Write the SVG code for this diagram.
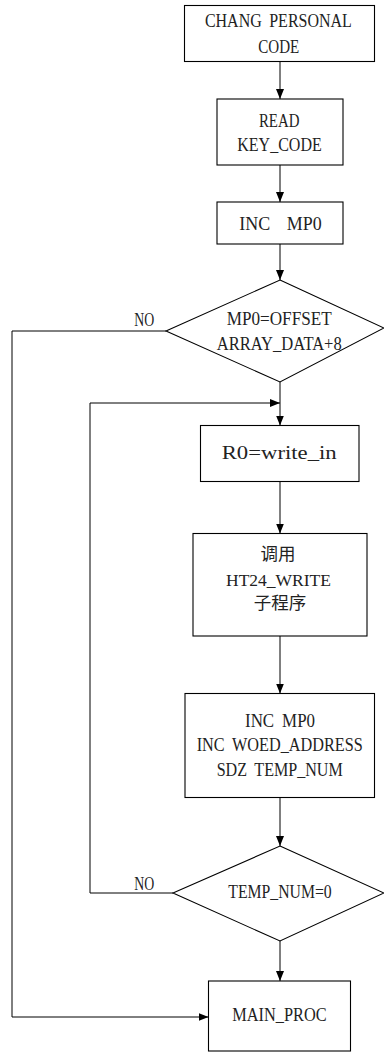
<svg xmlns="http://www.w3.org/2000/svg" width="384" height="1052" viewBox="0 0 384 1052">
<style>
.box{fill:#fff;stroke:#000;stroke-width:1.1}
.ln{fill:none;stroke:#000;stroke-width:1}
.t{font-family:"Liberation Serif","Times New Roman",serif;font-size:18.5px;fill:#222;text-anchor:middle;white-space:pre;word-spacing:4px}
.s{font-size:18px}
.c{font-family:"Liberation Serif","Noto Sans CJK SC",serif;font-size:17.5px;fill:#222;text-anchor:middle}
</style>
<defs>
<marker id="ah" markerUnits="userSpaceOnUse" markerWidth="10" markerHeight="8" refX="10" refY="4" orient="auto">
<path d="M0,0 L10,4 L0,8 z" fill="#000"/>
</marker>
</defs>
<rect width="384" height="1052" fill="#fff"/>
<g id="connectors">
<line class="ln" x1="280" y1="61.5" x2="280" y2="99" marker-end="url(#ah)"/>
<line class="ln" x1="280" y1="165" x2="280" y2="202" marker-end="url(#ah)"/>
<line class="ln" x1="280" y1="244" x2="280" y2="280" marker-end="url(#ah)"/>
<line class="ln" x1="280" y1="382" x2="280" y2="425.5" marker-end="url(#ah)"/>
<line class="ln" x1="280" y1="481.5" x2="280" y2="533.5" marker-end="url(#ah)"/>
<line class="ln" x1="280" y1="636" x2="280" y2="693.5" marker-end="url(#ah)"/>
<line class="ln" x1="280" y1="797.5" x2="280" y2="846" marker-end="url(#ah)"/>
<line class="ln" x1="280" y1="941" x2="280" y2="981" marker-end="url(#ah)"/>
<polyline class="ln" points="173,893 90,893 90,403 280,403" marker-end="url(#ah)"/>
<polyline class="ln" points="166,331 12,331 12,1017 208.5,1017" marker-end="url(#ah)"/>
<text class="t" x="144.2" y="326" textLength="20" lengthAdjust="spacingAndGlyphs">NO</text>
<text class="t" x="144.2" y="890" textLength="20" lengthAdjust="spacingAndGlyphs">NO</text>
</g>
<g id="n1">
<rect class="box" x="184.5" y="5.5" width="190" height="56"/>
<text class="t" x="278.4" y="27" textLength="147" lengthAdjust="spacingAndGlyphs">CHANG PERSONAL</text>
<text class="t" x="278.8" y="53" textLength="41" lengthAdjust="spacingAndGlyphs">CODE</text>
</g>
<g id="n2">
<rect class="box" x="217" y="99" width="126" height="66"/>
<text class="t" x="279.2" y="127" textLength="40.5" lengthAdjust="spacingAndGlyphs">READ</text>
<text class="t" x="279.5" y="151" textLength="84.5" lengthAdjust="spacingAndGlyphs">KEY_CODE</text>
</g>
<g id="n3">
<rect class="box" x="217" y="202" width="126" height="42"/>
<text class="t" x="280.5" y="230" textLength="82.5" lengthAdjust="spacingAndGlyphs">INC  MP0</text>
</g>
<g id="d1">
<polygon class="box" points="280,280 384,328 280,382 166,331"/>
<text class="t" x="279.2" y="325" textLength="105" lengthAdjust="spacingAndGlyphs">MP0=OFFSET</text>
<text class="t" x="279.2" y="350" textLength="125" lengthAdjust="spacingAndGlyphs">ARRAY_DATA+8</text>
</g>
<g id="n4">
<rect class="box" x="200.5" y="425.5" width="158.5" height="56"/>
<text class="t" x="279.2" y="459" textLength="115" lengthAdjust="spacingAndGlyphs">R0=write_in</text>
</g>
<g id="n5">
<rect class="box" x="193" y="533.5" width="174" height="102.5"/>
<text class="c" x="278" y="560">调用</text>
<text class="c" x="278.5" y="586">HT24_WRITE</text>
<text class="c" x="280" y="609">子程序</text>
</g>
<g id="n6">
<rect class="box" x="185" y="693.5" width="189.5" height="104"/>
<text class="t s" x="280" y="726.5" textLength="70" lengthAdjust="spacingAndGlyphs">INC MP0</text>
<text class="t s" x="279.7" y="751" textLength="166" lengthAdjust="spacingAndGlyphs">INC WOED_ADDRESS</text>
<text class="t s" x="279.7" y="776" textLength="126" lengthAdjust="spacingAndGlyphs">SDZ TEMP_NUM</text>
</g>
<g id="d2">
<polygon class="box" points="280,846 384,893 280,941 173,893"/>
<text class="t" x="280" y="898" textLength="103.4" lengthAdjust="spacingAndGlyphs">TEMP_NUM=0</text>
</g>
<g id="n7">
<rect class="box" x="208.5" y="981" width="142" height="70"/>
<text class="t" x="279.5" y="1021" textLength="94.4" lengthAdjust="spacingAndGlyphs">MAIN_PROC</text>
</g>
</svg>
